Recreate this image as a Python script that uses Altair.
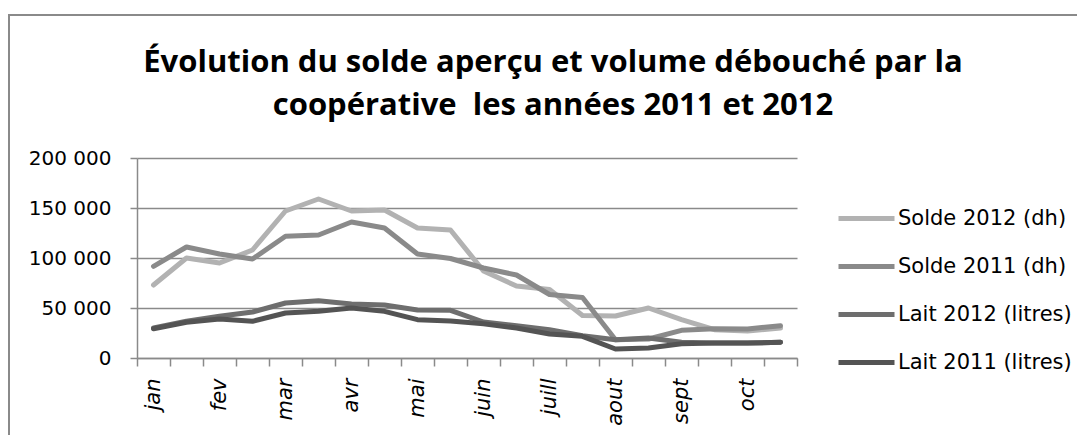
import altair as alt
import pandas as pd

mois = ["jan", "fev", "mar", "avr", "mai", "juin", "juill", "aout", "sept", "oct"]
# two points per month; only the first one carries a visible tick label
periodes = [f"{m} {k}" for m in mois for k in (1, 2)]

series = ["Solde 2012 (dh)", "Solde 2011 (dh)", "Lait 2012 (litres)", "Lait 2011 (litres)"]
solde_2012 = [73000, 100000, 95000, 108000, 147000, 159000, 147000, 148000, 130000, 128000,
              87000, 72000, 68500, 42500, 42000, 50000, 38300, 28300, 27000, 30000]
solde_2011 = [91700, 111000, 104000, 99000, 121700, 123000, 136000, 130000, 104000, 99500,
              90000, 83000, 63500, 60500, 18300, 19000, 27700, 29300, 29000, 32300]
lait_2012 = [30000, 36700, 41700, 46000, 55000, 57300, 54000, 53000, 48000, 47700,
             36000, 32300, 28300, 22300, 18300, 20000, 15700, 15000, 15000, 15700]
lait_2011 = [29300, 35700, 39000, 36700, 45000, 46700, 50000, 46700, 38300, 37000,
             34300, 30000, 24000, 21700, 9000, 10000, 14300, 15000, 15000, 15700]
couleurs = ["#b2b2b2", "#8a8a8a", "#6e6e6e", "#545454"]

titre = ["Évolution du solde aperçu et volume débouché par la",
         "coopérative\u00a0 les années 2011 et 2012"]

rows = []
for s, vals in zip(series, [solde_2012, solde_2011, lait_2012, lait_2011]):
    for p, v in zip(periodes, vals):
        rows.append({"periode": p, "serie": s, "valeur": v})
df = pd.DataFrame(rows)

AX = "#8a8a8a"

lines = alt.Chart(df).mark_line(strokeWidth=5, strokeCap="round", strokeJoin="round").encode(
    x=alt.X("periode:N", sort=periodes,
            scale=alt.Scale(paddingInner=0, paddingOuter=0),
            axis=alt.Axis(title=None, labelAngle=270, labelFont="DejaVu Sans",
                          labelFontStyle="italic", labelFontSize=21, labelColor="black",
                          labelExpr="split(datum.label, ' ')[1] == '1' ? split(datum.label, ' ')[0] : ''",
                          tickBand="extent", tickSize=8, tickColor=AX, tickWidth=1.5,
                          domainColor=AX, domainWidth=1.5, labelPadding=12, grid=False)),
    y=alt.Y("valeur:Q", scale=alt.Scale(domain=[0, 200000]),
            axis=alt.Axis(title=None, values=[0, 50000, 100000, 150000, 200000],
                          labelExpr="replace(format(datum.value, ','), ',', ' ')",
                          labelFont="DejaVu Sans", labelFontSize=20, labelColor="black",
                          tickSize=7, tickColor=AX, tickWidth=1.5, labelPadding=19,
                          domainColor=AX, domainWidth=1.5,
                          grid=True, gridColor=AX, gridWidth=1.5)),
    color=alt.Color("serie:N", sort=series,
                    scale=alt.Scale(domain=series, range=couleurs),
                    legend=alt.Legend(title=None, orient="none", legendX=699, legendY=30,
                                      symbolType="stroke", symbolSize=3136,
                                      symbolStrokeWidth=5, labelFont="DejaVu Sans",
                                      labelFontSize=21, labelColor="black", labelOffset=1,
                                      labelLimit=400, rowPadding=7)),
)

cadre = alt.Chart(alt.Data(values=[{}])).mark_rect(
    fill="white", fillOpacity=0, stroke="#8a8a8a", strokeWidth=2
).encode(x=alt.value(-128), x2=alt.value(1000), y=alt.value(-143), y2=alt.value(400))

chart = alt.layer(cadre, lines).properties(
    width=660, height=200,
    autosize=alt.AutoSizeParams(type="none"),
    padding={"left": 129, "top": 150, "right": 280, "bottom": 77},
    title=alt.TitleParams(text=titre, font="Open Sans", fontWeight="bold", fontSize=31,
                          color="black", anchor="middle", frame="group", dx=86,
                          offset=0, dy=108, lineHeight=43),
).configure_view(stroke=None)

chart.save("out.html", embed_options={"renderer": "svg", "actions": False})
